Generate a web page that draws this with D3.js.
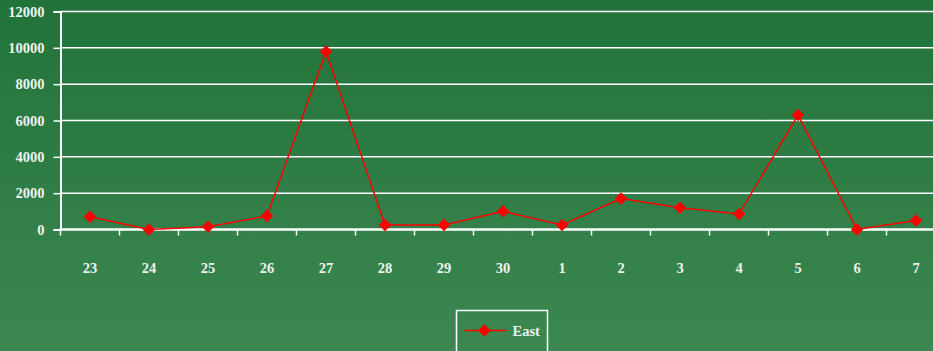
<!DOCTYPE html>
<html>
<head>
<meta charset="utf-8">
<script src="https://cdn.jsdelivr.net/npm/d3@7"></script>
<style>
  html, body { margin: 0; padding: 0; overflow: hidden; }
  svg { display: block; }
</style>
</head>
<body>
<div id="chart"></div>
<script>
const categories = ['23', '24', '25', '26', '27', '28', '29', '30', '1', '2', '3', '4', '5', '6', '7']
const eastValues = [700, 0, 150, 750, 9800, 250, 250, 1000, 250, 1700, 1200, 850, 6300, 0, 500]
const yTicks = [0, 2000, 4000, 6000, 8000, 10000, 12000]
const seriesName = 'East'

const width = 933
const height = 351
const plot = { left: 60.5, top: 11.5, right: 945.5, bottom: 229.5 }
const colors = {
  bgTop: '#21733a',
  bgBottom: '#3d8751',
  grid: '#ffffff',
  text: '#eef3ee',
  line: '#ff0000'
}
const font = '"Liberation Serif", "Times New Roman", serif'
const fontSize = '14.5px'

const svg = d3.select('#chart').append('svg')
  .attr('width', width)
  .attr('height', height)

const grad = svg.append('defs').append('linearGradient')
  .attr('id', 'bg').attr('x1', 0).attr('y1', 0).attr('x2', 0).attr('y2', 1)
grad.append('stop').attr('offset', 0).attr('stop-color', colors.bgTop)
grad.append('stop').attr('offset', 1).attr('stop-color', colors.bgBottom)

svg.append('rect').attr('width', width).attr('height', height).attr('fill', 'url(#bg)')

const x = d3.scaleBand().domain(categories).range([plot.left, plot.right])
const y = d3.scaleLinear().domain([0, 12000]).range([plot.bottom, plot.top])

// gridlines
svg.append('g').selectAll('line').data(yTicks.filter(d => d > 0)).join('line')
  .attr('x1', plot.left).attr('x2', plot.right)
  .attr('y1', d => y(d)).attr('y2', d => y(d))
  .attr('stroke', colors.grid).attr('stroke-width', 1.5)

// y axis
const yAxis = svg.append('g')
  .attr('transform', `translate(${plot.left},0)`)
  .call(d3.axisLeft(y).tickValues(yTicks).tickSize(7).tickPadding(9).tickFormat(d3.format('d')))
yAxis.select('.domain').attr('stroke', colors.grid).attr('stroke-width', 2)
yAxis.selectAll('.tick line').attr('stroke', colors.grid).attr('stroke-width', 1.5)
yAxis.selectAll('text')
  .attr('fill', colors.text)
  .style('font-family', font).style('font-weight', 'bold').style('font-size', fontSize)

// x axis
const xAxis = svg.append('g')
  .attr('transform', `translate(0,${plot.bottom})`)
  .call(d3.axisBottom(x).tickSize(0).tickPadding(33))
xAxis.select('.domain').remove()
xAxis.selectAll('text')
  .attr('fill', colors.text)
  .style('font-family', font).style('font-weight', 'bold').style('font-size', fontSize)

svg.append('line')
  .attr('x1', plot.left - 1).attr('x2', plot.right)
  .attr('y1', plot.bottom).attr('y2', plot.bottom)
  .attr('stroke', colors.grid).attr('stroke-width', 2.5)

svg.append('g').selectAll('line').data(categories).join('line')
  .attr('x1', d => x(d)).attr('x2', d => x(d))
  .attr('y1', plot.bottom).attr('y2', plot.bottom + 6)
  .attr('stroke', colors.grid).attr('stroke-width', 1.5)

// series
const pts = categories.map((c, i) => [x(c) + x.bandwidth() / 2, y(eastValues[i])])
svg.append('path')
  .attr('d', d3.line()(pts))
  .attr('fill', 'none').attr('stroke', colors.line).attr('stroke-width', 1.5)

const diamond = d3.symbol().type(d3.symbolDiamond2).size(100)
svg.append('g').selectAll('path').data(pts).join('path')
  .attr('transform', d => `translate(${d[0]},${d[1]})`)
  .attr('d', diamond)
  .attr('fill', colors.line)

// legend
const legend = svg.append('g').attr('transform', 'translate(456.5,310.5)')
legend.append('rect')
  .attr('width', 91).attr('height', 50)
  .attr('fill', 'none').attr('stroke', colors.grid).attr('stroke-width', 1.5)
legend.append('line')
  .attr('x1', 8).attr('x2', 50).attr('y1', 20).attr('y2', 20)
  .attr('stroke', colors.line).attr('stroke-width', 1.5)
legend.append('path')
  .attr('transform', 'translate(28,20)')
  .attr('d', diamond)
  .attr('fill', colors.line)
legend.append('text')
  .attr('x', 56).attr('y', 25)
  .attr('fill', colors.text)
  .style('font-family', font).style('font-weight', 'bold').style('font-size', fontSize)
  .text(seriesName)
</script>
</body>
</html>
